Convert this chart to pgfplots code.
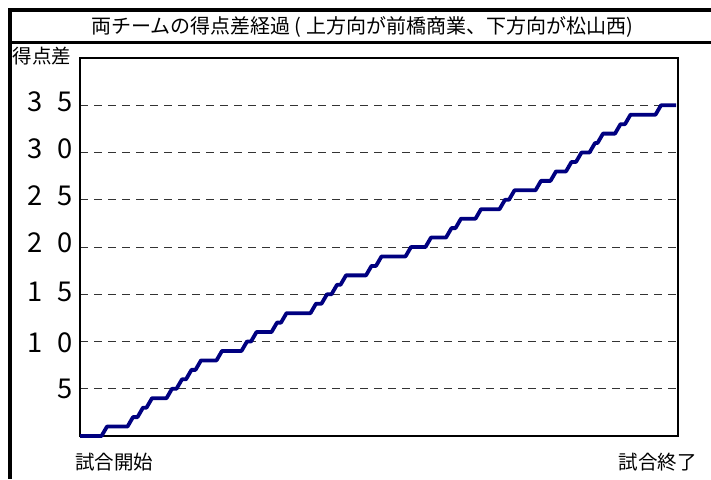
\documentclass[border=0pt]{standalone}
\usepackage{fontspec}
\usepackage{pgfplots}
\pgfplotsset{compat=1.18}
\newfontfamily\jp{Noto Sans CJK JP}
\definecolor{navyline}{RGB}{0,0,128}
\begin{document}
\begin{tikzpicture}
\path[use as bounding box] (0pt,0pt) rectangle (711pt,-479pt);
% frame
\draw[line width=4pt] (10.3pt,-8.3pt) -- (10.3pt,-479pt);
\draw[line width=3.8pt] (8.3pt,-10.3pt) -- (711pt,-10.3pt);
\draw[line width=3.6pt] (8.3pt,-42.5pt) -- (711pt,-42.5pt);
\node[inner sep=0pt,font=\fontsize{20pt}{22pt}\jp] at (362pt,-26.5pt) {両チームの得点差経過 ( 上方向が前橋商業、下方向が松山西)};
\node[inner sep=0pt,anchor=west,font=\fontsize{19.5pt}{22pt}\jp] at (12.5pt,-55.8pt) {得点差};
\node[inner sep=0pt,anchor=west,font=\fontsize{19.5pt}{22pt}\jp] at (75pt,-462pt) {試合開始};
\node[inner sep=0pt,anchor=east,font=\fontsize{19.5pt}{22pt}\jp] at (697pt,-462pt) {試合終了};
\begin{axis}[
  at={(80pt,-436pt)}, anchor=south west,
  scale only axis, width=598pt, height=378pt,
  xmin=0, xmax=598, ymin=0, ymax=40,
  clip=false,
  axis line style={line width=1.5pt, black},
  xtick=\empty,
  ytick={5,10,15,20,25,30,35},
  yticklabels={},
  major tick length=0pt,
  ymajorgrids,
  major grid style={line width=1pt, black!80, dash pattern=on 8pt off 6pt},
  extra y ticks={4.97,9.89,15.27,20.48,25.47,30.40,35.34},
  extra y tick labels={5\hspace{9pt},1\hspace{14.4pt}0,1\hspace{14.4pt}5,2\hspace{14.4pt}0,2\hspace{14.4pt}5,3\hspace{14.4pt}0,3\hspace{14.4pt}5},
  extra y tick style={grid=none, major tick length=0pt},
  yticklabel style={font=\fontsize{27.3pt}{30pt}\jp, inner sep=0pt, anchor=east, xshift=-7.5pt},
]
\addplot[navyline, line width=3.8pt, line join=round, line cap=butt] coordinates {
(0,0) (21.5,0) (27,1) (47.5,1) (53,2) (57.5,2) (63,3) (66.5,3) (72,4) (86.5,4) (92,5) (96.5,5) (102,6) (106,6) (111.5,7) (115.5,7) (121,8) (136.5,8) (142,9) (161.5,9) (167,10) (171,10) (176.5,11) (191.5,11) (197,12) (201,12) (206.5,13) (230.5,13) (236,14) (241.5,14) (247,15) (251.5,15) (257,16) (260.5,16) (266,17) (286,17) (291.5,18) (296,18) (301.5,19) (325.5,19) (331,20) (345.5,20) (351,21) (366,21) (371.5,22) (375.5,22) (381,23) (395.5,23) (401,24) (419.5,24) (425,25) (429,25) (434.5,26) (455.5,26) (461,27) (470.5,27) (476,28) (486,28) (491.5,29) (496,29) (501.5,30) (509.5,30) (515,31) (517.5,31) (523,32) (535,32) (540.5,33) (545,33) (550.5,34) (575.5,34) (581,35) (596,35)
};
\end{axis}
\end{tikzpicture}
\end{document}
